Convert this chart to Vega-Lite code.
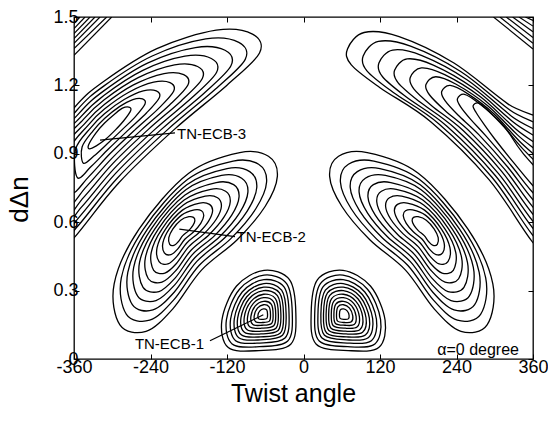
{
"$schema":"https://vega.github.io/schema/vega-lite/v6.json",
"width":459,"height":342,"autosize":"none",
"padding":{"left":74,"top":17,"right":15,"bottom":73},
"background":"white",
"config":{"font":"Liberation Sans","view":{"stroke":"#000","strokeWidth":1.3},"axis":{"domain":false,"grid":false,"labelColor":"#000","titleColor":"#000","tickColor":"#000","labelFont":"Liberation Sans","titleFont":"Liberation Sans"}},
"datasets":{
"rings":[
{"g":"a0","x":-62,"y":0.389},{"g":"a0","x":-22,"y":0.348},{"g":"a0","x":-12,"y":0.2},{"g":"a0","x":-20,"y":0.065},{"g":"a0","x":-70,"y":0.037},{"g":"a0","x":-118,"y":0.05},{"g":"a0","x":-128,"y":0.17},{"g":"a0","x":-105,"y":0.32},
{"g":"a1","x":-62,"y":0.368},{"g":"a1","x":-26.5,"y":0.331},{"g":"a1","x":-17.6,"y":0.199},{"g":"a1","x":-24.7,"y":0.079},{"g":"a1","x":-69.2,"y":0.054},{"g":"a1","x":-112,"y":0.066},{"g":"a1","x":-120.9,"y":0.173},{"g":"a1","x":-100.4,"y":0.306},
{"g":"a2","x":-62.2,"y":0.348},{"g":"a2","x":-30.6,"y":0.316},{"g":"a2","x":-22.7,"y":0.199},{"g":"a2","x":-29,"y":0.092},{"g":"a2","x":-68.5,"y":0.07},{"g":"a2","x":-106.5,"y":0.08},{"g":"a2","x":-114.4,"y":0.175},{"g":"a2","x":-96.2,"y":0.294},
{"g":"a3","x":-62.3,"y":0.331},{"g":"a3","x":-34.3,"y":0.302},{"g":"a3","x":-27.3,"y":0.199},{"g":"a3","x":-32.9,"y":0.104},{"g":"a3","x":-67.9,"y":0.084},{"g":"a3","x":-101.5,"y":0.093},{"g":"a3","x":-108.5,"y":0.177},{"g":"a3","x":-92.4,"y":0.283},
{"g":"a4","x":-62.4,"y":0.315},{"g":"a4","x":-37.6,"y":0.29},{"g":"a4","x":-31.4,"y":0.198},{"g":"a4","x":-36.3,"y":0.114},{"g":"a4","x":-67.3,"y":0.097},{"g":"a4","x":-97.1,"y":0.105},{"g":"a4","x":-103.3,"y":0.179},{"g":"a4","x":-89,"y":0.273},
{"g":"a5","x":-62.5,"y":0.3},{"g":"a5","x":-40.9,"y":0.278},{"g":"a5","x":-35.5,"y":0.198},{"g":"a5","x":-39.8,"y":0.125},{"g":"a5","x":-66.8,"y":0.11},{"g":"a5","x":-92.7,"y":0.117},{"g":"a5","x":-98.1,"y":0.181},{"g":"a5","x":-85.7,"y":0.263},
{"g":"a6","x":-62.5,"y":0.284},{"g":"a6","x":-44.1,"y":0.265},{"g":"a6","x":-39.5,"y":0.197},{"g":"a6","x":-43.2,"y":0.135},{"g":"a6","x":-66.2,"y":0.122},{"g":"a6","x":-88.3,"y":0.128},{"g":"a6","x":-92.9,"y":0.183},{"g":"a6","x":-82.3,"y":0.253},
{"g":"a7","x":-62.6,"y":0.269},{"g":"a7","x":-47.4,"y":0.253},{"g":"a7","x":-43.6,"y":0.197},{"g":"a7","x":-46.7,"y":0.146},{"g":"a7","x":-65.7,"y":0.135},{"g":"a7","x":-83.9,"y":0.14},{"g":"a7","x":-87.7,"y":0.185},{"g":"a7","x":-79,"y":0.243},
{"g":"a8","x":-62.7,"y":0.253},{"g":"a8","x":-50.7,"y":0.241},{"g":"a8","x":-47.7,"y":0.197},{"g":"a8","x":-50.1,"y":0.156},{"g":"a8","x":-65.1,"y":0.148},{"g":"a8","x":-79.5,"y":0.151},{"g":"a8","x":-82.5,"y":0.187},{"g":"a8","x":-75.6,"y":0.233},
{"g":"a9","x":-62.8,"y":0.238},{"g":"a9","x":-54,"y":0.229},{"g":"a9","x":-51.8,"y":0.196},{"g":"a9","x":-53.5,"y":0.166},{"g":"a9","x":-64.5,"y":0.16},{"g":"a9","x":-75.1,"y":0.163},{"g":"a9","x":-77.3,"y":0.189},{"g":"a9","x":-72.2,"y":0.223},
{"g":"a10","x":-62.9,"y":0.22},{"g":"a10","x":-57.7,"y":0.215},{"g":"a10","x":-56.4,"y":0.196},{"g":"a10","x":-57.4,"y":0.178},{"g":"a10","x":-63.9,"y":0.174},{"g":"a10","x":-70.2,"y":0.176},{"g":"a10","x":-71.5,"y":0.192},{"g":"a10","x":-68.5,"y":0.211},
{"g":"b0","x":62,"y":0.389},{"g":"b0","x":22,"y":0.348},{"g":"b0","x":12,"y":0.2},{"g":"b0","x":20,"y":0.065},{"g":"b0","x":70,"y":0.037},{"g":"b0","x":118,"y":0.05},{"g":"b0","x":128,"y":0.17},{"g":"b0","x":105,"y":0.32},
{"g":"b1","x":62,"y":0.368},{"g":"b1","x":26.5,"y":0.331},{"g":"b1","x":17.6,"y":0.199},{"g":"b1","x":24.7,"y":0.079},{"g":"b1","x":69.2,"y":0.054},{"g":"b1","x":112,"y":0.066},{"g":"b1","x":120.9,"y":0.173},{"g":"b1","x":100.4,"y":0.306},
{"g":"b2","x":62.2,"y":0.348},{"g":"b2","x":30.6,"y":0.316},{"g":"b2","x":22.7,"y":0.199},{"g":"b2","x":29,"y":0.092},{"g":"b2","x":68.5,"y":0.07},{"g":"b2","x":106.5,"y":0.08},{"g":"b2","x":114.4,"y":0.175},{"g":"b2","x":96.2,"y":0.294},
{"g":"b3","x":62.3,"y":0.331},{"g":"b3","x":34.3,"y":0.302},{"g":"b3","x":27.3,"y":0.199},{"g":"b3","x":32.9,"y":0.104},{"g":"b3","x":67.9,"y":0.084},{"g":"b3","x":101.5,"y":0.093},{"g":"b3","x":108.5,"y":0.177},{"g":"b3","x":92.4,"y":0.283},
{"g":"b4","x":62.4,"y":0.315},{"g":"b4","x":37.6,"y":0.29},{"g":"b4","x":31.4,"y":0.198},{"g":"b4","x":36.3,"y":0.114},{"g":"b4","x":67.3,"y":0.097},{"g":"b4","x":97.1,"y":0.105},{"g":"b4","x":103.3,"y":0.179},{"g":"b4","x":89,"y":0.273},
{"g":"b5","x":62.5,"y":0.3},{"g":"b5","x":40.9,"y":0.278},{"g":"b5","x":35.5,"y":0.198},{"g":"b5","x":39.8,"y":0.125},{"g":"b5","x":66.8,"y":0.11},{"g":"b5","x":92.7,"y":0.117},{"g":"b5","x":98.1,"y":0.181},{"g":"b5","x":85.7,"y":0.263},
{"g":"b6","x":62.5,"y":0.284},{"g":"b6","x":44.1,"y":0.265},{"g":"b6","x":39.5,"y":0.197},{"g":"b6","x":43.2,"y":0.135},{"g":"b6","x":66.2,"y":0.122},{"g":"b6","x":88.3,"y":0.128},{"g":"b6","x":92.9,"y":0.183},{"g":"b6","x":82.3,"y":0.253},
{"g":"b7","x":62.6,"y":0.269},{"g":"b7","x":47.4,"y":0.253},{"g":"b7","x":43.6,"y":0.197},{"g":"b7","x":46.7,"y":0.146},{"g":"b7","x":65.7,"y":0.135},{"g":"b7","x":83.9,"y":0.14},{"g":"b7","x":87.7,"y":0.185},{"g":"b7","x":79,"y":0.243},
{"g":"b8","x":62.7,"y":0.253},{"g":"b8","x":50.7,"y":0.241},{"g":"b8","x":47.7,"y":0.197},{"g":"b8","x":50.1,"y":0.156},{"g":"b8","x":65.1,"y":0.148},{"g":"b8","x":79.5,"y":0.151},{"g":"b8","x":82.5,"y":0.187},{"g":"b8","x":75.6,"y":0.233},
{"g":"b9","x":62.8,"y":0.238},{"g":"b9","x":54,"y":0.229},{"g":"b9","x":51.8,"y":0.196},{"g":"b9","x":53.5,"y":0.166},{"g":"b9","x":64.5,"y":0.16},{"g":"b9","x":75.1,"y":0.163},{"g":"b9","x":77.3,"y":0.189},{"g":"b9","x":72.2,"y":0.223},
{"g":"b10","x":62.9,"y":0.22},{"g":"b10","x":57.7,"y":0.215},{"g":"b10","x":56.4,"y":0.196},{"g":"b10","x":57.4,"y":0.178},{"g":"b10","x":63.9,"y":0.174},{"g":"b10","x":70.2,"y":0.176},{"g":"b10","x":71.5,"y":0.192},{"g":"b10","x":68.5,"y":0.211},
{"g":"c0","x":-100,"y":0.905},{"g":"c0","x":-55,"y":0.889},{"g":"c0","x":-41,"y":0.801},{"g":"c0","x":-60,"y":0.67},{"g":"c0","x":-104,"y":0.523},{"g":"c0","x":-160,"y":0.39},{"g":"c0","x":-205,"y":0.22},{"g":"c0","x":-247,"y":0.121},{"g":"c0","x":-288,"y":0.15},{"g":"c0","x":-297,"y":0.33},{"g":"c0","x":-258,"y":0.57},{"g":"c0","x":-180,"y":0.815},
{"g":"c1","x":-110.4,"y":0.868},{"g":"c1","x":-70.4,"y":0.854},{"g":"c1","x":-57.9,"y":0.776},{"g":"c1","x":-74.8,"y":0.659},{"g":"c1","x":-114,"y":0.528},{"g":"c1","x":-163.8,"y":0.41},{"g":"c1","x":-203.9,"y":0.258},{"g":"c1","x":-241.3,"y":0.17},{"g":"c1","x":-277.8,"y":0.196},{"g":"c1","x":-285.8,"y":0.356},{"g":"c1","x":-251.1,"y":0.57},{"g":"c1","x":-181.6,"y":0.788},
{"g":"c2","x":-119.9,"y":0.835},{"g":"c2","x":-84.4,"y":0.822},{"g":"c2","x":-73.3,"y":0.752},{"g":"c2","x":-88.3,"y":0.649},{"g":"c2","x":-123.1,"y":0.533},{"g":"c2","x":-167.3,"y":0.428},{"g":"c2","x":-202.9,"y":0.293},{"g":"c2","x":-236.1,"y":0.215},{"g":"c2","x":-268.5,"y":0.238},{"g":"c2","x":-275.6,"y":0.38},{"g":"c2","x":-244.8,"y":0.57},{"g":"c2","x":-183.1,"y":0.764},
{"g":"c3","x":-128.5,"y":0.805},{"g":"c3","x":-97,"y":0.793},{"g":"c3","x":-87.2,"y":0.732},{"g":"c3","x":-100.5,"y":0.64},{"g":"c3","x":-131.3,"y":0.537},{"g":"c3","x":-170.5,"y":0.444},{"g":"c3","x":-202,"y":0.325},{"g":"c3","x":-231.4,"y":0.256},{"g":"c3","x":-260.1,"y":0.276},{"g":"c3","x":-266.4,"y":0.402},{"g":"c3","x":-239.1,"y":0.57},{"g":"c3","x":-184.5,"y":0.742},
{"g":"c4","x":-137,"y":0.774},{"g":"c4","x":-109.6,"y":0.765},{"g":"c4","x":-101.1,"y":0.711},{"g":"c4","x":-112.6,"y":0.631},{"g":"c4","x":-139.5,"y":0.541},{"g":"c4","x":-173.6,"y":0.46},{"g":"c4","x":-201.1,"y":0.356},{"g":"c4","x":-226.7,"y":0.296},{"g":"c4","x":-251.7,"y":0.314},{"g":"c4","x":-257.2,"y":0.424},{"g":"c4","x":-233.4,"y":0.57},{"g":"c4","x":-185.8,"y":0.719},
{"g":"c5","x":-145.6,"y":0.744},{"g":"c5","x":-122.2,"y":0.736},{"g":"c5","x":-114.9,"y":0.69},{"g":"c5","x":-124.8,"y":0.622},{"g":"c5","x":-147.7,"y":0.546},{"g":"c5","x":-176.8,"y":0.476},{"g":"c5","x":-200.2,"y":0.388},{"g":"c5","x":-222,"y":0.337},{"g":"c5","x":-243.4,"y":0.352},{"g":"c5","x":-248,"y":0.445},{"g":"c5","x":-227.8,"y":0.57},{"g":"c5","x":-187.2,"y":0.697},
{"g":"c6","x":-154.1,"y":0.714},{"g":"c6","x":-134.8,"y":0.707},{"g":"c6","x":-128.8,"y":0.669},{"g":"c6","x":-136.9,"y":0.613},{"g":"c6","x":-155.9,"y":0.55},{"g":"c6","x":-179.9,"y":0.493},{"g":"c6","x":-199.3,"y":0.419},{"g":"c6","x":-217.4,"y":0.377},{"g":"c6","x":-235,"y":0.389},{"g":"c6","x":-238.9,"y":0.467},{"g":"c6","x":-222.1,"y":0.57},{"g":"c6","x":-188.5,"y":0.675},
{"g":"c7","x":-162.7,"y":0.684},{"g":"c7","x":-147.4,"y":0.678},{"g":"c7","x":-142.6,"y":0.649},{"g":"c7","x":-149.1,"y":0.604},{"g":"c7","x":-164.1,"y":0.554},{"g":"c7","x":-183.1,"y":0.509},{"g":"c7","x":-198.4,"y":0.451},{"g":"c7","x":-212.7,"y":0.417},{"g":"c7","x":-226.6,"y":0.427},{"g":"c7","x":-229.7,"y":0.488},{"g":"c7","x":-216.4,"y":0.57},{"g":"c7","x":-189.9,"y":0.653},
{"g":"c8","x":-171.2,"y":0.654},{"g":"c8","x":-160,"y":0.65},{"g":"c8","x":-156.5,"y":0.628},{"g":"c8","x":-161.2,"y":0.595},{"g":"c8","x":-172.2,"y":0.558},{"g":"c8","x":-186.2,"y":0.525},{"g":"c8","x":-197.5,"y":0.482},{"g":"c8","x":-208,"y":0.458},{"g":"c8","x":-218.3,"y":0.465},{"g":"c8","x":-220.5,"y":0.51},{"g":"c8","x":-210.8,"y":0.57},{"g":"c8","x":-191.2,"y":0.631},
{"g":"c9","x":-179.8,"y":0.624},{"g":"c9","x":-172.6,"y":0.621},{"g":"c9","x":-170.4,"y":0.607},{"g":"c9","x":-173.4,"y":0.586},{"g":"c9","x":-180.4,"y":0.562},{"g":"c9","x":-189.4,"y":0.541},{"g":"c9","x":-196.6,"y":0.514},{"g":"c9","x":-203.3,"y":0.498},{"g":"c9","x":-209.9,"y":0.503},{"g":"c9","x":-211.3,"y":0.532},{"g":"c9","x":-205.1,"y":0.57},{"g":"c9","x":-192.6,"y":0.609},
{"g":"d0","x":100,"y":0.905},{"g":"d0","x":55,"y":0.889},{"g":"d0","x":41,"y":0.801},{"g":"d0","x":60,"y":0.67},{"g":"d0","x":104,"y":0.523},{"g":"d0","x":160,"y":0.39},{"g":"d0","x":205,"y":0.22},{"g":"d0","x":247,"y":0.121},{"g":"d0","x":288,"y":0.15},{"g":"d0","x":297,"y":0.33},{"g":"d0","x":258,"y":0.57},{"g":"d0","x":180,"y":0.815},
{"g":"d1","x":110.4,"y":0.868},{"g":"d1","x":70.4,"y":0.854},{"g":"d1","x":57.9,"y":0.776},{"g":"d1","x":74.8,"y":0.659},{"g":"d1","x":114,"y":0.528},{"g":"d1","x":163.8,"y":0.41},{"g":"d1","x":203.9,"y":0.258},{"g":"d1","x":241.3,"y":0.17},{"g":"d1","x":277.8,"y":0.196},{"g":"d1","x":285.8,"y":0.356},{"g":"d1","x":251.1,"y":0.57},{"g":"d1","x":181.6,"y":0.788},
{"g":"d2","x":119.9,"y":0.835},{"g":"d2","x":84.4,"y":0.822},{"g":"d2","x":73.3,"y":0.752},{"g":"d2","x":88.3,"y":0.649},{"g":"d2","x":123.1,"y":0.533},{"g":"d2","x":167.3,"y":0.428},{"g":"d2","x":202.9,"y":0.293},{"g":"d2","x":236.1,"y":0.215},{"g":"d2","x":268.5,"y":0.238},{"g":"d2","x":275.6,"y":0.38},{"g":"d2","x":244.8,"y":0.57},{"g":"d2","x":183.1,"y":0.764},
{"g":"d3","x":128.5,"y":0.805},{"g":"d3","x":97,"y":0.793},{"g":"d3","x":87.2,"y":0.732},{"g":"d3","x":100.5,"y":0.64},{"g":"d3","x":131.3,"y":0.537},{"g":"d3","x":170.5,"y":0.444},{"g":"d3","x":202,"y":0.325},{"g":"d3","x":231.4,"y":0.256},{"g":"d3","x":260.1,"y":0.276},{"g":"d3","x":266.4,"y":0.402},{"g":"d3","x":239.1,"y":0.57},{"g":"d3","x":184.5,"y":0.742},
{"g":"d4","x":137,"y":0.774},{"g":"d4","x":109.6,"y":0.765},{"g":"d4","x":101.1,"y":0.711},{"g":"d4","x":112.6,"y":0.631},{"g":"d4","x":139.5,"y":0.541},{"g":"d4","x":173.6,"y":0.46},{"g":"d4","x":201.1,"y":0.356},{"g":"d4","x":226.7,"y":0.296},{"g":"d4","x":251.7,"y":0.314},{"g":"d4","x":257.2,"y":0.424},{"g":"d4","x":233.4,"y":0.57},{"g":"d4","x":185.8,"y":0.719},
{"g":"d5","x":145.6,"y":0.744},{"g":"d5","x":122.2,"y":0.736},{"g":"d5","x":114.9,"y":0.69},{"g":"d5","x":124.8,"y":0.622},{"g":"d5","x":147.7,"y":0.546},{"g":"d5","x":176.8,"y":0.476},{"g":"d5","x":200.2,"y":0.388},{"g":"d5","x":222,"y":0.337},{"g":"d5","x":243.4,"y":0.352},{"g":"d5","x":248,"y":0.445},{"g":"d5","x":227.8,"y":0.57},{"g":"d5","x":187.2,"y":0.697},
{"g":"d6","x":154.1,"y":0.714},{"g":"d6","x":134.8,"y":0.707},{"g":"d6","x":128.8,"y":0.669},{"g":"d6","x":136.9,"y":0.613},{"g":"d6","x":155.9,"y":0.55},{"g":"d6","x":179.9,"y":0.493},{"g":"d6","x":199.3,"y":0.419},{"g":"d6","x":217.4,"y":0.377},{"g":"d6","x":235,"y":0.389},{"g":"d6","x":238.9,"y":0.467},{"g":"d6","x":222.1,"y":0.57},{"g":"d6","x":188.5,"y":0.675},
{"g":"d7","x":162.7,"y":0.684},{"g":"d7","x":147.4,"y":0.678},{"g":"d7","x":142.6,"y":0.649},{"g":"d7","x":149.1,"y":0.604},{"g":"d7","x":164.1,"y":0.554},{"g":"d7","x":183.1,"y":0.509},{"g":"d7","x":198.4,"y":0.451},{"g":"d7","x":212.7,"y":0.417},{"g":"d7","x":226.6,"y":0.427},{"g":"d7","x":229.7,"y":0.488},{"g":"d7","x":216.4,"y":0.57},{"g":"d7","x":189.9,"y":0.653},
{"g":"d8","x":171.2,"y":0.654},{"g":"d8","x":160,"y":0.65},{"g":"d8","x":156.5,"y":0.628},{"g":"d8","x":161.2,"y":0.595},{"g":"d8","x":172.2,"y":0.558},{"g":"d8","x":186.2,"y":0.525},{"g":"d8","x":197.5,"y":0.482},{"g":"d8","x":208,"y":0.458},{"g":"d8","x":218.3,"y":0.465},{"g":"d8","x":220.5,"y":0.51},{"g":"d8","x":210.8,"y":0.57},{"g":"d8","x":191.2,"y":0.631},
{"g":"d9","x":179.8,"y":0.624},{"g":"d9","x":172.6,"y":0.621},{"g":"d9","x":170.4,"y":0.607},{"g":"d9","x":173.4,"y":0.586},{"g":"d9","x":180.4,"y":0.562},{"g":"d9","x":189.4,"y":0.541},{"g":"d9","x":196.6,"y":0.514},{"g":"d9","x":203.3,"y":0.498},{"g":"d9","x":209.9,"y":0.503},{"g":"d9","x":211.3,"y":0.532},{"g":"d9","x":205.1,"y":0.57},{"g":"d9","x":192.6,"y":0.609},
{"g":"e0","x":-336,"y":0.922},{"g":"e0","x":-325,"y":0.935},{"g":"e0","x":-310,"y":0.965},{"g":"e0","x":-295,"y":1.005},{"g":"e0","x":-282,"y":1.045},{"g":"e0","x":-271,"y":1.09},{"g":"e0","x":-274,"y":1.105},{"g":"e0","x":-284,"y":1.1},{"g":"e0","x":-296,"y":1.075},{"g":"e0","x":-312,"y":1.035},{"g":"e0","x":-326,"y":0.99},{"g":"e0","x":-337,"y":0.94},
{"g":"e1","x":-345.3,"y":0.859},{"g":"e1","x":-328.9,"y":0.89},{"g":"e1","x":-307.8,"y":0.944},{"g":"e1","x":-284.8,"y":1.005},{"g":"e1","x":-264,"y":1.062},{"g":"e1","x":-248.6,"y":1.118},{"g":"e1","x":-252.5,"y":1.141},{"g":"e1","x":-267.7,"y":1.138},{"g":"e1","x":-288.7,"y":1.107},{"g":"e1","x":-312.1,"y":1.055},{"g":"e1","x":-329.8,"y":1.002},{"g":"e1","x":-347.3,"y":0.93},
{"g":"e2","x":-354.6,"y":0.795},{"g":"e2","x":-332.8,"y":0.845},{"g":"e2","x":-305.6,"y":0.922},{"g":"e2","x":-274.6,"y":1.005},{"g":"e2","x":-246,"y":1.08},{"g":"e2","x":-226.2,"y":1.146},{"g":"e2","x":-230.9,"y":1.176},{"g":"e2","x":-251.4,"y":1.176},{"g":"e2","x":-281.3,"y":1.138},{"g":"e2","x":-312.2,"y":1.076},{"g":"e2","x":-333.5,"y":1.015},{"g":"e2","x":-357.6,"y":0.92},
{"g":"e3","x":-364,"y":0.732},{"g":"e3","x":-336.7,"y":0.8},{"g":"e3","x":-303.3,"y":0.901},{"g":"e3","x":-264.4,"y":1.005},{"g":"e3","x":-228,"y":1.097},{"g":"e3","x":-203.7,"y":1.174},{"g":"e3","x":-209.4,"y":1.212},{"g":"e3","x":-235,"y":1.214},{"g":"e3","x":-274,"y":1.17},{"g":"e3","x":-312.3,"y":1.096},{"g":"e3","x":-337.3,"y":1.027},{"g":"e3","x":-368,"y":0.91},
{"g":"e4","x":-373.3,"y":0.668},{"g":"e4","x":-340.5,"y":0.756},{"g":"e4","x":-301.1,"y":0.879},{"g":"e4","x":-254.2,"y":1.005},{"g":"e4","x":-210.1,"y":1.114},{"g":"e4","x":-181.3,"y":1.202},{"g":"e4","x":-187.9,"y":1.247},{"g":"e4","x":-218.7,"y":1.252},{"g":"e4","x":-266.7,"y":1.202},{"g":"e4","x":-312.4,"y":1.116},{"g":"e4","x":-341.1,"y":1.039},{"g":"e4","x":-378.3,"y":0.9},
{"g":"e5","x":-382.7,"y":0.604},{"g":"e5","x":-344.5,"y":0.71},{"g":"e5","x":-298.9,"y":0.858},{"g":"e5","x":-243.8,"y":1.006},{"g":"e5","x":-191.9,"y":1.132},{"g":"e5","x":-158.7,"y":1.23},{"g":"e5","x":-166.1,"y":1.283},{"g":"e5","x":-202.3,"y":1.29},{"g":"e5","x":-259.3,"y":1.234},{"g":"e5","x":-312.6,"y":1.137},{"g":"e5","x":-344.9,"y":1.052},{"g":"e5","x":-388.7,"y":0.89},
{"g":"e6","x":-392,"y":0.54},{"g":"e6","x":-348.3,"y":0.666},{"g":"e6","x":-296.7,"y":0.836},{"g":"e6","x":-233.6,"y":1.006},{"g":"e6","x":-173.9,"y":1.149},{"g":"e6","x":-136.3,"y":1.258},{"g":"e6","x":-144.6,"y":1.318},{"g":"e6","x":-186,"y":1.328},{"g":"e6","x":-252,"y":1.266},{"g":"e6","x":-312.7,"y":1.157},{"g":"e6","x":-348.7,"y":1.064},{"g":"e6","x":-399,"y":0.88},
{"g":"e7","x":-401.4,"y":0.477},{"g":"e7","x":-352.2,"y":0.621},{"g":"e7","x":-294.4,"y":0.815},{"g":"e7","x":-223.4,"y":1.006},{"g":"e7","x":-156,"y":1.166},{"g":"e7","x":-113.8,"y":1.286},{"g":"e7","x":-123.1,"y":1.354},{"g":"e7","x":-169.6,"y":1.366},{"g":"e7","x":-244.7,"y":1.298},{"g":"e7","x":-312.8,"y":1.177},{"g":"e7","x":-352.5,"y":1.076},{"g":"e7","x":-409.4,"y":0.87},
{"g":"e8","x":-410.7,"y":0.414},{"g":"e8","x":-356.1,"y":0.576},{"g":"e8","x":-292.2,"y":0.793},{"g":"e8","x":-213.2,"y":1.006},{"g":"e8","x":-138,"y":1.184},{"g":"e8","x":-91.4,"y":1.314},{"g":"e8","x":-101.5,"y":1.389},{"g":"e8","x":-153.3,"y":1.404},{"g":"e8","x":-237.3,"y":1.329},{"g":"e8","x":-312.9,"y":1.198},{"g":"e8","x":-356.2,"y":1.089},{"g":"e8","x":-419.7,"y":0.86},
{"g":"e9","x":-420,"y":0.35},{"g":"e9","x":-360,"y":0.531},{"g":"e9","x":-290,"y":0.772},{"g":"e9","x":-203,"y":1.006},{"g":"e9","x":-120,"y":1.201},{"g":"e9","x":-69,"y":1.342},{"g":"e9","x":-80,"y":1.425},{"g":"e9","x":-137,"y":1.442},{"g":"e9","x":-230,"y":1.361},{"g":"e9","x":-313,"y":1.218},{"g":"e9","x":-360,"y":1.101},{"g":"e9","x":-430,"y":0.85},
{"g":"f0","x":420,"y":0.58},{"g":"f0","x":360,"y":0.76},{"g":"f0","x":330,"y":0.86},{"g":"f0","x":300,"y":0.965},{"g":"f0","x":283,"y":1.03},{"g":"f0","x":271,"y":1.08},{"g":"f0","x":266,"y":1.11},{"g":"f0","x":275,"y":1.122},{"g":"f0","x":293,"y":1.08},{"g":"f0","x":320,"y":1},{"g":"f0","x":345,"y":0.9},{"g":"f0","x":420,"y":0.66},
{"g":"f1","x":421.3,"y":0.543},{"g":"f1","x":360,"y":0.729},{"g":"f1","x":325.1,"y":0.851},{"g":"f1","x":287.5,"y":0.974},{"g":"f1","x":262.6,"y":1.05},{"g":"f1","x":246.5,"y":1.106},{"g":"f1","x":241.4,"y":1.141},{"g":"f1","x":252.5,"y":1.161},{"g":"f1","x":275.1,"y":1.122},{"g":"f1","x":309.5,"y":1.037},{"g":"f1","x":341.9,"y":0.928},{"g":"f1","x":420,"y":0.694},
{"g":"f2","x":422.5,"y":0.505},{"g":"f2","x":360,"y":0.698},{"g":"f2","x":320.3,"y":0.842},{"g":"f2","x":275,"y":0.984},{"g":"f2","x":242.3,"y":1.07},{"g":"f2","x":222,"y":1.133},{"g":"f2","x":216.8,"y":1.173},{"g":"f2","x":230,"y":1.2},{"g":"f2","x":257.3,"y":1.164},{"g":"f2","x":299,"y":1.075},{"g":"f2","x":338.8,"y":0.955},{"g":"f2","x":420,"y":0.728},
{"g":"f3","x":423.8,"y":0.468},{"g":"f3","x":360,"y":0.666},{"g":"f3","x":315.4,"y":0.833},{"g":"f3","x":262.5,"y":0.993},{"g":"f3","x":221.9,"y":1.09},{"g":"f3","x":197.5,"y":1.159},{"g":"f3","x":192.1,"y":1.204},{"g":"f3","x":207.5,"y":1.238},{"g":"f3","x":239.4,"y":1.205},{"g":"f3","x":288.5,"y":1.112},{"g":"f3","x":335.6,"y":0.983},{"g":"f3","x":420,"y":0.761},
{"g":"f4","x":425,"y":0.43},{"g":"f4","x":360,"y":0.635},{"g":"f4","x":310.5,"y":0.824},{"g":"f4","x":250,"y":1.003},{"g":"f4","x":201.5,"y":1.11},{"g":"f4","x":173,"y":1.185},{"g":"f4","x":167.5,"y":1.235},{"g":"f4","x":185,"y":1.277},{"g":"f4","x":221.5,"y":1.247},{"g":"f4","x":278,"y":1.149},{"g":"f4","x":332.5,"y":1.01},{"g":"f4","x":420,"y":0.795},
{"g":"f5","x":426.3,"y":0.393},{"g":"f5","x":360,"y":0.604},{"g":"f5","x":305.6,"y":0.814},{"g":"f5","x":237.5,"y":1.012},{"g":"f5","x":181.1,"y":1.13},{"g":"f5","x":148.5,"y":1.211},{"g":"f5","x":142.9,"y":1.266},{"g":"f5","x":162.5,"y":1.316},{"g":"f5","x":203.6,"y":1.289},{"g":"f5","x":267.5,"y":1.186},{"g":"f5","x":329.4,"y":1.038},{"g":"f5","x":420,"y":0.829},
{"g":"f6","x":427.5,"y":0.355},{"g":"f6","x":360,"y":0.573},{"g":"f6","x":300.8,"y":0.805},{"g":"f6","x":225,"y":1.021},{"g":"f6","x":160.8,"y":1.15},{"g":"f6","x":124,"y":1.238},{"g":"f6","x":118.3,"y":1.298},{"g":"f6","x":140,"y":1.355},{"g":"f6","x":185.8,"y":1.331},{"g":"f6","x":257,"y":1.224},{"g":"f6","x":326.3,"y":1.065},{"g":"f6","x":420,"y":0.863},
{"g":"f7","x":428.8,"y":0.318},{"g":"f7","x":360,"y":0.541},{"g":"f7","x":295.9,"y":0.796},{"g":"f7","x":212.5,"y":1.031},{"g":"f7","x":140.4,"y":1.17},{"g":"f7","x":99.5,"y":1.264},{"g":"f7","x":93.6,"y":1.329},{"g":"f7","x":117.5,"y":1.393},{"g":"f7","x":167.9,"y":1.372},{"g":"f7","x":246.5,"y":1.261},{"g":"f7","x":323.1,"y":1.093},{"g":"f7","x":420,"y":0.896},
{"g":"f8","x":430,"y":0.28},{"g":"f8","x":360,"y":0.51},{"g":"f8","x":291,"y":0.787},{"g":"f8","x":200,"y":1.04},{"g":"f8","x":120,"y":1.19},{"g":"f8","x":75,"y":1.29},{"g":"f8","x":69,"y":1.36},{"g":"f8","x":95,"y":1.432},{"g":"f8","x":150,"y":1.414},{"g":"f8","x":236,"y":1.298},{"g":"f8","x":320,"y":1.12},{"g":"f8","x":420,"y":0.93}
],
"segs":[
{"g":"g0","x":-360,"y":1.471},{"g":"g0","x":-350.6,"y":1.5},
{"g":"g1","x":-360,"y":1.449},{"g":"g1","x":-342.7,"y":1.5},
{"g":"g2","x":-360,"y":1.427},{"g":"g2","x":-334.9,"y":1.5},
{"g":"g3","x":-360,"y":1.405},{"g":"g3","x":-327.1,"y":1.5},
{"g":"g4","x":-360,"y":1.384},{"g":"g4","x":-319.2,"y":1.5},
{"g":"g5","x":-360,"y":1.362},{"g":"g5","x":-308.7,"y":1.5},
{"g":"g6","x":-360,"y":1.332},{"g":"g6","x":-300.9,"y":1.5},
{"g":"h0","x":298,"y":1.5},{"g":"h0","x":360,"y":1.36},
{"g":"h1","x":308,"y":1.5},{"g":"h1","x":360,"y":1.385},
{"g":"h2","x":318,"y":1.5},{"g":"h2","x":360,"y":1.41},
{"g":"h3","x":328,"y":1.5},{"g":"h3","x":360,"y":1.435},
{"g":"h4","x":338,"y":1.5},{"g":"h4","x":360,"y":1.46},
{"g":"h5","x":348,"y":1.5},{"g":"h5","x":360,"y":1.485},
{"g":"p1","x":-146.7,"y":0.08},{"g":"p1","x":-63,"y":0.194},
{"g":"p2","x":-194.8,"y":0.57},{"g":"p2","x":-107.5,"y":0.537},
{"g":"p3","x":-319.2,"y":0.96},{"g":"p3","x":-201.6,"y":0.992}
],
"lbl_left":[{"t":"TN-ECB-2","x":-105,"y":0.534},{"t":"TN-ECB-3","x":-198.4,"y":0.989}],
"lbl_right":[{"t":"TN-ECB-1","x":-156,"y":0.067}],
"lbl_alpha":[{"t":"α=0 degree","x":338,"y":0.019}]
},
"resolve":{"axis":{"x":"independent","y":"independent"}},
"layer":[
{"data":{"name":"rings"},
 "mark":{"type":"line","interpolate":"cardinal-closed","clip":true,"color":"#000","strokeWidth":1.3},
 "encoding":{
  "x":{"field":"x","type":"quantitative","scale":{"domain":[-360,360],"nice":false,"zero":false},
   "axis":{"orient":"bottom","values":[-360,-240,-120,0,120,240,360],"labelExpr":"''+datum.value","labelFontSize":18,"tickSize":-5,"labelPadding":4,"labelFlush":false,"labelOverlap":false,"title":"Twist angle","titleFontSize":25,"titleFontWeight":"normal","titleX":219,"titleY":42,"titleBaseline":"alphabetic","titleAlign":"center","titleAnchor":null}},
  "y":{"field":"y","type":"quantitative","scale":{"domain":[0,1.5],"nice":false,"zero":false},
   "axis":{"orient":"left","values":[0,0.3,0.6,0.9,1.2,1.5],"labelExpr":"datum.value==0?'0':format(datum.value,'.1f')","labelFontSize":18,"tickSize":-5,"labelPadding":1,"labelFlush":false,"labelOverlap":false,"title":"dΔn","titleFontSize":26,"titleFontWeight":"normal","titleAngle":-90,"titleX":-47,"titleY":182,"titleBaseline":"alphabetic","titleAlign":"center","titleAnchor":null}},
  "detail":{"field":"g"},
  "order":{"value":null}}},
{"data":{"name":"segs"},
 "mark":{"type":"line","clip":true,"color":"#000","strokeWidth":1.2},
 "encoding":{
  "x":{"field":"x","type":"quantitative","axis":{"orient":"top","values":[-360,-240,-120,0,120,240,360],"labels":false,"tickSize":-5,"title":null}},
  "y":{"field":"y","type":"quantitative","axis":{"orient":"right","values":[0,0.3,0.6,0.9,1.2,1.5],"labels":false,"tickSize":-5,"title":null}},
  "detail":{"field":"g"},
  "order":{"value":null}}},
{"data":{"name":"lbl_left"},
 "mark":{"type":"text","align":"left","baseline":"middle","fontSize":15,"font":"Liberation Sans","color":"#000"},
 "encoding":{"x":{"field":"x","type":"quantitative","axis":null},"y":{"field":"y","type":"quantitative","axis":null},"text":{"field":"t"}}},
{"data":{"name":"lbl_right"},
 "mark":{"type":"text","align":"right","baseline":"middle","fontSize":15,"font":"Liberation Sans","color":"#000"},
 "encoding":{"x":{"field":"x","type":"quantitative","axis":null},"y":{"field":"y","type":"quantitative","axis":null},"text":{"field":"t"}}},
{"data":{"name":"lbl_alpha"},
 "mark":{"type":"text","align":"right","baseline":"alphabetic","fontSize":16,"font":"Liberation Sans","color":"#000"},
 "encoding":{"x":{"field":"x","type":"quantitative","axis":null},"y":{"field":"y","type":"quantitative","axis":null},"text":{"field":"t"}}}
]
}
